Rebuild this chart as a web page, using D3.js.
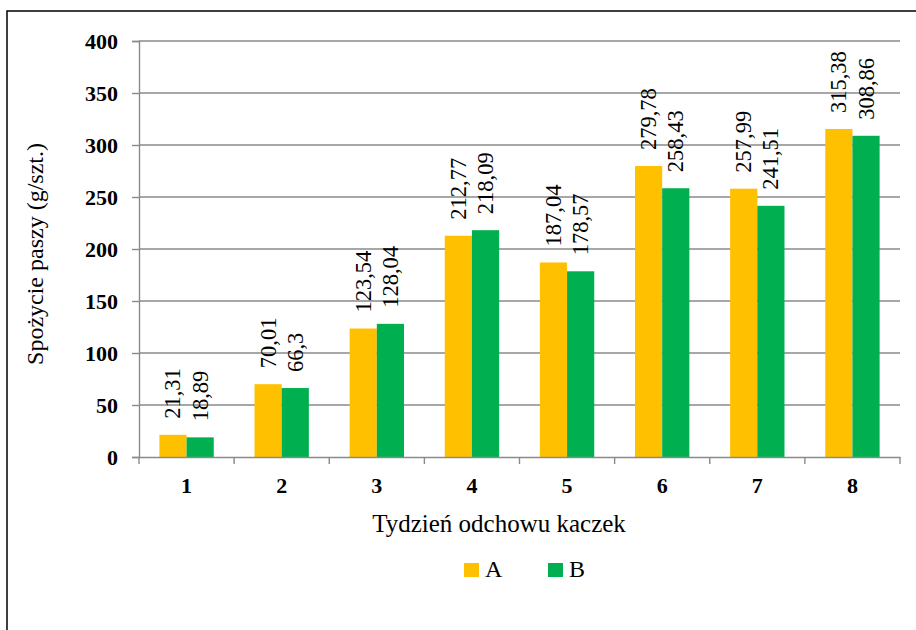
<!DOCTYPE html>
<html><head><meta charset="utf-8">
<script src="https://cdn.jsdelivr.net/npm/d3@7"></script>
<style>html,body{margin:0;padding:0;background:#fff;}svg{display:block;} svg text{font-family:'Liberation Serif','Times New Roman',serif;}</style>
</head><body>
<svg id="chart" width="916" height="630"></svg>
<script>
const categories = ["1","2","3","4","5","6","7","8"];
const seriesNames = ["A","B"];
const valuesA = [21.31, 70.01, 123.54, 212.77, 187.04, 279.78, 257.99, 315.38];
const valuesB = [18.89, 66.3, 128.04, 218.09, 178.57, 258.43, 241.51, 308.86];
const yTicks = [0,50,100,150,200,250,300,350,400];
const colors = {A:"#FFC000", B:"#00B050"};
const yTitle = "Spożycie paszy (g/szt.)";
const xTitle = "Tydzień odchowu kaczek";

const svg = d3.select("#chart");
const font = "'Liberation Serif','Times New Roman',serif";
const L = 139, R = 900, T = 41, B = 457;

svg.append("rect").attr("x",7).attr("y",11).attr("width",1000).attr("height",1000)
  .attr("fill","none").attr("stroke","#000").attr("stroke-width",1.5);

const x = d3.scaleBand().domain(categories).range([L,R]).paddingInner(0).paddingOuter(0);
const x1 = d3.scaleBand().domain(seriesNames).range([0,x.bandwidth()]).paddingInner(0).paddingOuter(0.75);
const y = d3.scaleLinear().domain([0,400]).range([B,T]);

// gridlines
svg.append("g").selectAll("line").data(yTicks.filter(d=>d>0)).join("line")
  .attr("x1",L).attr("x2",R).attr("y1",d=>y(d)).attr("y2",d=>y(d))
  .attr("stroke","#8a8a8a").attr("stroke-width",1.4);

// y axis
const yAxis = svg.append("g").attr("transform",`translate(${L},0)`)
  .call(d3.axisLeft(y).tickValues(yTicks).tickSize(7).tickPadding(14));
yAxis.attr("font-family",null);
yAxis.select(".domain").attr("stroke","#8a8a8a").attr("stroke-width",1.4);
yAxis.selectAll(".tick line").attr("stroke","#8a8a8a").attr("stroke-width",1.4);
yAxis.selectAll(".tick text").style("font-family",font).style("font-size","22px").style("font-weight","bold").attr("fill","#000");

// bars
const data = categories.map((c,i)=>({cat:c, vals:[{s:"A",v:valuesA[i]},{s:"B",v:valuesB[i]}]}));
const groups = svg.append("g").selectAll("g").data(data).join("g")
  .attr("transform",d=>`translate(${x(d.cat)},0)`);
groups.selectAll("rect").data(d=>d.vals).join("rect")
  .attr("x",d=>x1(d.s)).attr("width",x1.bandwidth())
  .attr("y",d=>y(d.v)).attr("height",d=>B-y(d.v))
  .attr("fill",d=>colors[d.s]);
groups.selectAll("text").data(d=>d.vals).join("text")
  .attr("transform",d=>`translate(${x1(d.s)+x1.bandwidth()/2},${y(d.v)-16}) rotate(-90)`)
  .attr("dominant-baseline","central").attr("text-anchor","start")
  .style("font-family",font).style("font-size","22.5px").attr("fill","#000")
  .text(d=>String(d.v).replace(".",","));

// x axis
const xAxis = svg.append("g").attr("transform",`translate(0,${B})`)
  .call(d3.axisBottom(x).tickSize(0).tickPadding(20));
xAxis.attr("font-family",null);
xAxis.select(".domain").attr("stroke","#8a8a8a").attr("stroke-width",1.4);
xAxis.selectAll(".tick text").style("font-family",font).style("font-size","22px").style("font-weight","bold").attr("fill","#000");
const bounds = categories.map(c=>x(c)).concat([R]);
svg.append("g").selectAll("line").data(bounds).join("line")
  .attr("x1",d=>d).attr("x2",d=>d).attr("y1",B).attr("y2",B+7)
  .attr("stroke","#8a8a8a").attr("stroke-width",1.4);

// titles
svg.append("text").attr("x",499).attr("y",532).attr("text-anchor","middle")
  .style("font-family",font).style("font-size","25px").attr("fill","#000").text(xTitle);
svg.append("text").attr("transform",`translate(43,${(T+B)/2+5}) rotate(-90)`).attr("text-anchor","middle")
  .style("font-family",font).style("font-size","24px").attr("fill","#000").text(yTitle);

// legend
const legX = [464, 548];
const leg = svg.append("g").selectAll("g").data(seriesNames).join("g")
  .attr("transform",(d,i)=>`translate(${legX[i]},563)`);
leg.append("rect").attr("width",15).attr("height",14).attr("fill",d=>colors[d]);
leg.append("text").attr("x",21).attr("y",14).style("font-family",font).style("font-size","24px").attr("fill","#000").text(d=>d);
</script>
</body></html>
